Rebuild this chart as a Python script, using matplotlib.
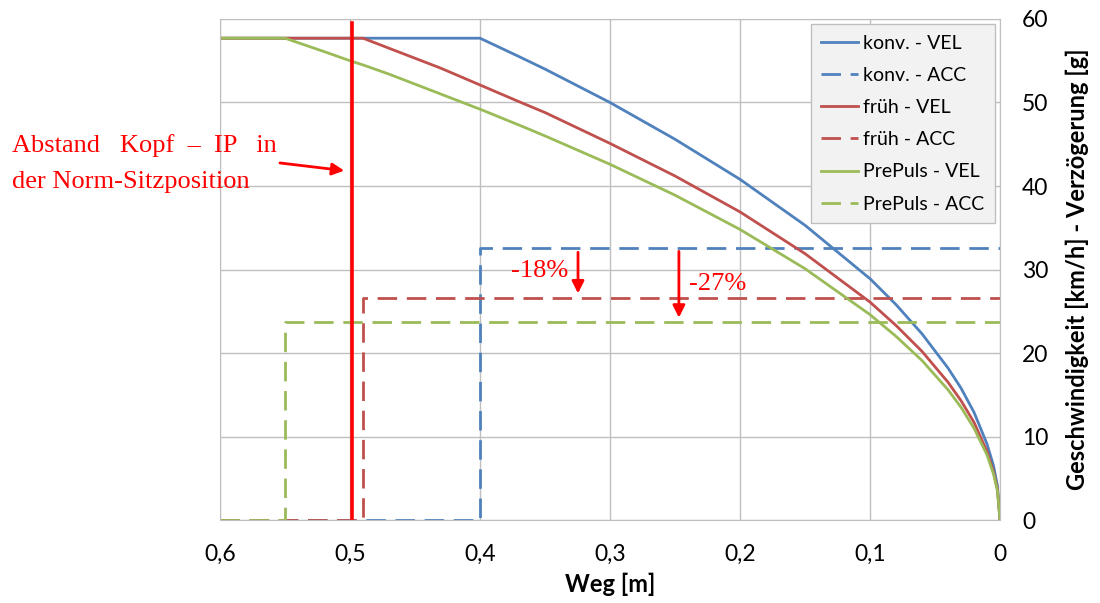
import matplotlib.pyplot as plt
from matplotlib.ticker import FuncFormatter

# Weg [m] und Geschwindigkeit [km/h]
weg = [0.6, 0.55, 0.52, 0.5, 0.49, 0.47, 0.45, 0.43, 0.4, 0.37, 0.35, 0.3, 0.25, 0.2,
       0.15, 0.1, 0.08, 0.06, 0.04, 0.03, 0.02, 0.01, 0.005, 0.002, 0.0]
konv_vel = [57.7, 57.7, 57.7, 57.7, 57.7, 57.7, 57.7, 57.7, 57.7, 55.5, 54.0, 50.0,
            45.6, 40.8, 35.3, 28.9, 25.8, 22.3, 18.2, 15.8, 12.9, 9.1, 6.5, 4.1, 0.0]
frueh_vel = [57.7, 57.7, 57.7, 57.7, 57.7, 56.5, 55.3, 54.1, 52.1, 50.1, 48.8, 45.1,
             41.2, 36.9, 31.9, 26.1, 23.3, 20.2, 16.5, 14.3, 11.7, 8.2, 5.8, 3.7, 0.0]
prepuls_vel = [57.7, 57.7, 56.1, 55.0, 54.5, 53.4, 52.2, 51.0, 49.2, 47.3, 46.0, 42.6,
               38.9, 34.8, 30.1, 24.6, 22.0, 19.1, 15.6, 13.5, 11.0, 7.8, 5.5, 3.5, 0.0]

# Verzoegerung [g]: Beginn der Verzoegerung [m] und Niveau
konv_acc_start, konv_acc = 0.4, 32.6
frueh_acc_start, frueh_acc = 0.49, 26.6
prepuls_acc_start, prepuls_acc = 0.55, 23.7

blau = '#4F81BD'
rot = '#C0504D'
gruen = '#9BBB59'

fig = plt.figure(figsize=(11, 6.03), dpi=100)
ax = fig.add_axes([0.2, 0.1376, 0.7091, 0.8309])

def stufe(start, level):
    return [0.6, start, start, 0.0], [0, 0, level, level]

strich = (0, (7, 3.5))
ax.plot(weg, konv_vel, color=blau, lw=2, label='konv. - VEL')
x, y = stufe(konv_acc_start, konv_acc)
ax.plot(x, y, color=blau, lw=2, linestyle=strich, label='konv. - ACC')
ax.plot(weg, frueh_vel, color=rot, lw=2, label='früh - VEL')
x, y = stufe(frueh_acc_start, frueh_acc)
ax.plot(x, y, color=rot, lw=2, linestyle=strich, label='früh - ACC')
ax.plot(weg, prepuls_vel, color=gruen, lw=2, label='PrePuls - VEL')
x, y = stufe(prepuls_acc_start, prepuls_acc)
ax.plot(x, y, color=gruen, lw=2, linestyle=strich, label='PrePuls - ACC')

# rote Markierung Kopf - IP
ax.plot([0.4985, 0.4985], [0.2, 59.5], color='#FF0000', lw=2.6, zorder=5)

ax.set_xlim(0.6, 0.0)
ax.set_ylim(0, 60)
ax.set_xticks([0.6, 0.5, 0.4, 0.3, 0.2, 0.1, 0.0])
ax.set_yticks(range(0, 61, 10))
ax.xaxis.set_major_formatter(FuncFormatter(lambda v, p: ('%g' % round(v, 1)).replace('.', ',')))
ax.yaxis.tick_right()
ax.yaxis.set_label_position('right')
ax.tick_params(length=0, labelsize=16.5, pad=17)
ax.tick_params(axis='y', pad=16)
for lab in ax.get_xticklabels() + ax.get_yticklabels():
    lab.set_fontfamily('Lato')
ax.grid(True, color='#BFBFBF', lw=1)
ax.set_axisbelow(True)
for s in ax.spines.values():
    s.set_color('#BFBFBF')

ax.set_xlabel('Weg [m]', fontsize=17, fontweight='bold', family='Lato', labelpad=6)
ax.set_ylabel('Geschwindigkeit [km/h] - Verzögerung [g]', fontsize=17,
              fontweight='bold', family='Lato', labelpad=12)

leg = ax.legend(loc='upper right', bbox_to_anchor=(0.9936, 0.99),
                prop={'family': 'Lato', 'size': 14}, fancybox=False,
                facecolor='#F2F2F2', edgecolor='#BFBFBF', framealpha=1,
                handlelength=1.9, handletextpad=0.25, labelspacing=0.78,
                borderpad=0.55, borderaxespad=0)
leg.get_frame().set_linewidth(1)

# Beschriftungen
serif = 'Liberation Serif'
fig.text(0.011, 0.759, 'Abstand   Kopf  –  IP   in', color='red', fontsize=19,
         family=serif, va='center')
fig.text(0.011, 0.699, 'der Norm-Sitzposition', color='red', fontsize=19,
         family=serif, va='center')
ax.annotate('', xy=(0.5023, 41.8), xytext=(0.556, 42.8), annotation_clip=False,
            arrowprops=dict(arrowstyle='-|>', color='red', lw=2, mutation_scale=18))

ax.annotate('', xy=(0.3246, 26.8), xytext=(0.3246, 32.4),
            arrowprops=dict(arrowstyle='-|>', color='red', lw=2, mutation_scale=18))
ax.text(0.354, 29.8, '-18%', color='red', fontsize=19, family=serif, ha='center', va='center')
ax.annotate('', xy=(0.247, 23.9), xytext=(0.247, 32.5),
            arrowprops=dict(arrowstyle='-|>', color='red', lw=2, mutation_scale=18))
ax.text(0.217, 28.3, '-27%', color='red', fontsize=19, family=serif, ha='center', va='center')

fig.savefig('out.png', dpi=100)
